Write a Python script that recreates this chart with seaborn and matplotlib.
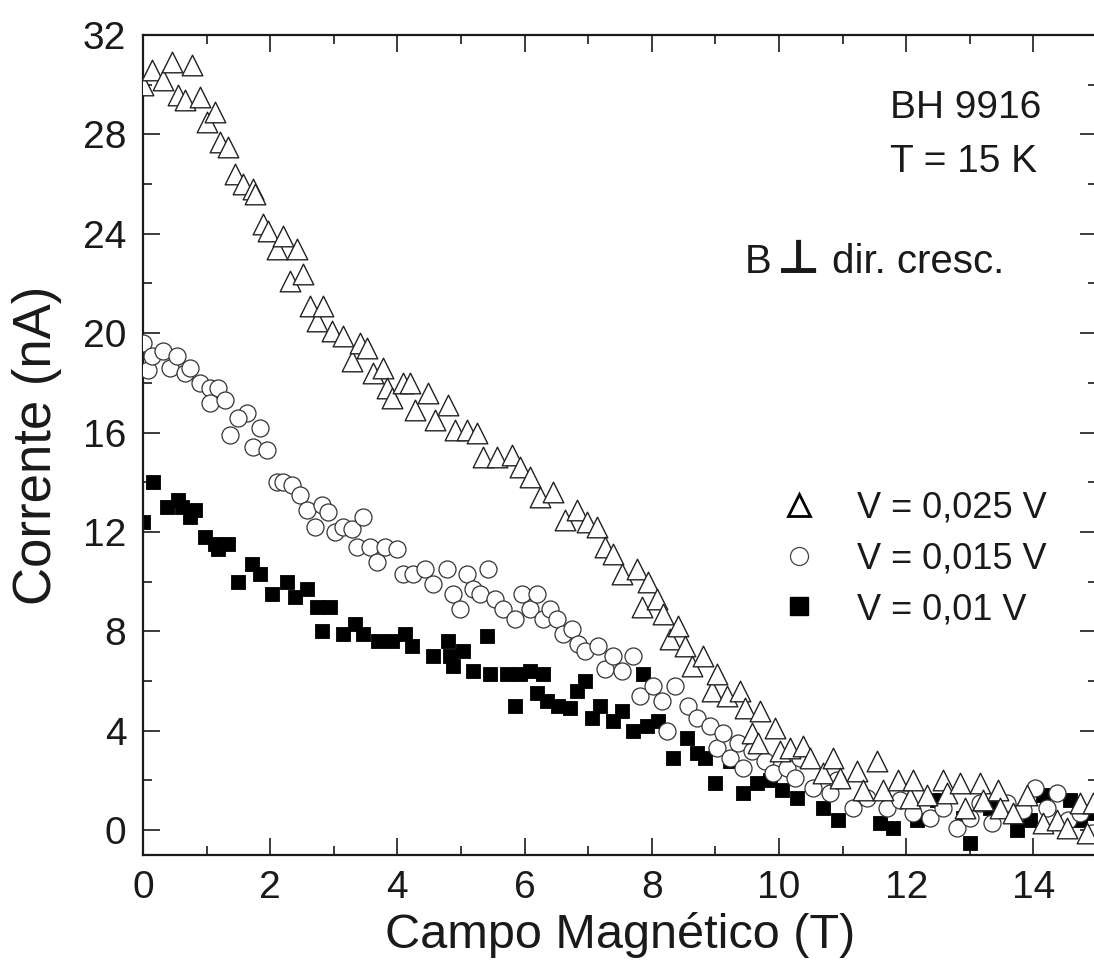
import numpy as np
import pandas as pd
import seaborn as sns
import matplotlib.pyplot as plt
from matplotlib.lines import Line2D
from matplotlib.ticker import MultipleLocator

# --- data ---
# V = 0,025 V (open triangles)
x_025 = [0.00, 0.14, 0.31, 0.46, 0.55, 0.66, 0.77, 0.90, 1.01, 1.13, 1.21, 1.34, 1.45, 1.57,
         1.73, 1.76, 1.89, 1.97, 2.11, 2.20, 2.31, 2.42, 2.52, 2.63, 2.74, 2.83, 2.97, 3.14,
         3.29, 3.41, 3.52, 3.62, 3.77, 3.84, 3.92, 4.09, 4.20, 4.28, 4.48, 4.59, 4.80, 4.91,
         5.09, 5.25, 5.35, 5.57, 5.80, 5.93, 6.08, 6.24, 6.45, 6.64, 6.82, 6.98, 7.14, 7.26,
         7.39, 7.53, 7.77, 7.85, 7.94, 8.08, 8.18, 8.29, 8.41, 8.52, 8.63, 8.81, 8.95, 9.03,
         9.18, 9.39, 9.47, 9.58, 9.67, 9.70, 9.94, 10.02, 10.17, 10.38, 10.49, 10.69, 10.85,
         10.96, 11.23, 11.32, 11.54, 11.64, 11.87, 12.06, 12.10, 12.33, 12.58, 12.64, 12.85,
         12.92, 13.16, 13.21, 13.44, 13.48, 13.68, 13.90, 14.15, 14.37, 14.53, 14.73, 14.84,
         14.94]
y_025 = [30.0, 30.6, 30.2, 30.9, 29.6, 29.4, 30.8, 29.5, 28.5, 28.9, 27.7, 27.5, 26.4, 26.0,
         25.8, 25.6, 24.4, 24.1, 23.4, 23.9, 22.1, 23.4, 22.4, 21.1, 20.5, 21.1, 20.1, 19.9,
         18.9, 19.6, 19.4, 18.4, 18.6, 17.8, 17.4, 18.0, 18.0, 16.9, 17.6, 16.5, 17.1, 16.1,
         16.1, 16.0, 15.0, 15.0, 15.1, 14.6, 14.2, 13.4, 13.6, 12.5, 12.9, 12.4, 12.2, 11.4,
         11.1, 10.3, 10.5, 9.0, 10.0, 9.3, 8.7, 7.7, 8.2, 7.4, 6.6, 7.0, 5.6, 6.3,
         5.4, 5.6, 4.9, 3.9, 3.5, 4.8, 4.1, 3.2, 3.3, 3.4, 2.9, 2.3, 2.9,
         2.1, 2.4, 1.6, 2.8, 1.6, 2.0, 1.3, 2.0, 1.4, 2.0, 1.5, 1.9,
         0.9, 1.9, 1.2, 1.6, 0.9, 0.7, 1.4, 0.3, 0.4, 0.1, 1.1, -0.1,
         1.1]

# V = 0,015 V (open circles)
x_015 = [0.00, 0.08, 0.14, 0.31, 0.42, 0.53, 0.66, 0.74, 0.90, 1.05, 1.18, 1.05, 1.29, 1.64,
         1.49, 1.37, 1.84, 1.73, 1.95, 2.10, 2.20, 2.34, 2.47, 2.58, 2.81, 2.91, 2.70, 3.02,
         3.14, 3.29, 3.46, 3.36, 3.57, 3.68, 3.81, 4.00, 4.09, 4.25, 4.43, 4.56, 4.78, 4.87,
         4.98, 5.09, 5.19, 5.30, 5.42, 5.53, 5.66, 5.85, 5.96, 6.08, 6.19, 6.29, 6.40, 6.51,
         6.60, 6.75, 6.84, 6.95, 7.15, 7.26, 7.39, 7.53, 7.70, 7.81, 8.02, 8.16, 8.24, 8.36,
         8.57, 8.71, 8.92, 9.03, 9.12, 9.23, 9.36, 9.43, 9.58, 9.78, 9.91, 10.13, 10.25,
         10.33, 10.53, 10.80, 10.91, 11.16, 11.38, 11.70, 11.90, 12.10, 12.37, 12.58, 12.80,
         13.00, 13.16, 13.35, 13.58, 13.84, 14.03, 14.21, 14.37, 14.54, 14.73, 14.92]
y_015 = [19.6, 18.5, 19.1, 19.3, 18.6, 19.1, 18.4, 18.6, 18.0, 17.8, 17.8, 17.2, 17.3, 16.8,
         16.6, 15.9, 16.2, 15.4, 15.3, 14.0, 14.0, 13.9, 13.5, 12.9, 13.1, 12.8, 12.2, 12.0,
         12.2, 12.1, 12.6, 11.4, 11.4, 10.8, 11.4, 11.3, 10.3, 10.3, 10.5, 9.9, 10.5, 9.5,
         8.9, 10.3, 9.7, 9.5, 10.5, 9.3, 8.9, 8.5, 9.5, 8.9, 9.5, 8.5, 8.9, 8.5,
         7.9, 8.1, 7.5, 7.2, 7.4, 6.5, 7.0, 6.4, 7.0, 5.4, 5.8, 5.2, 4.0, 5.8,
         5.0, 4.5, 4.2, 3.3, 3.9, 2.9, 3.5, 2.5, 3.2, 2.8, 2.3, 2.5, 2.1,
         2.9, 1.7, 1.5, 2.0, 0.9, 1.3, 0.9, 1.2, 0.7, 0.5, 0.9, 0.1,
         0.5, 1.1, 0.3, 1.1, 0.8, 1.7, 0.9, 1.5, 0.4, 0.7, -0.1]

# V = 0,01 V (filled squares)
x_010 = [0.00, 0.16, 0.38, 0.55, 0.61, 0.74, 0.82, 0.97, 1.13, 1.18, 1.34, 1.49, 1.71, 1.84,
         2.03, 2.26, 2.39, 2.58, 2.74, 2.81, 2.94, 3.14, 3.33, 3.46, 3.69, 3.91, 4.12, 4.23,
         4.56, 4.80, 4.83, 4.87, 5.03, 5.19, 5.41, 5.46, 5.72, 5.85, 5.93, 6.08, 6.19, 6.29,
         6.35, 6.53, 6.71, 6.82, 6.95, 7.06, 7.19, 7.39, 7.53, 7.70, 7.86, 7.92, 8.10, 8.33,
         8.55, 8.71, 8.84, 8.99, 9.23, 9.43, 9.65, 9.86, 10.05, 10.28, 10.69, 10.93, 11.59,
         11.79, 12.17, 12.48, 12.89, 13.00, 13.32, 13.74, 13.95, 14.15, 14.58, 14.73, 14.89]
y_010 = [12.4, 14.0, 13.0, 13.3, 13.0, 12.6, 12.9, 11.8, 11.5, 11.3, 11.5, 10.0, 10.7, 10.3,
         9.5, 10.0, 9.4, 9.7, 9.0, 8.0, 9.0, 7.9, 8.3, 7.9, 7.6, 7.6, 7.9, 7.4,
         7.0, 7.6, 7.0, 6.6, 7.2, 6.4, 7.8, 6.3, 6.3, 5.0, 6.3, 6.4, 5.5, 6.3,
         5.2, 5.0, 4.9, 5.6, 6.0, 4.5, 5.0, 4.4, 4.8, 4.0, 6.3, 4.2, 4.4, 2.9,
         3.7, 3.1, 2.9, 1.9, 2.8, 1.5, 1.9, 2.0, 1.6, 1.3, 0.9, 0.4, 0.3,
         0.1, 0.4, 1.2, 0.5, -0.5, 0.9, 0.0, 0.4, 1.4, 1.2, 0.4, 0.7]

labels = ["V = 0,025 V", "V = 0,015 V", "V = 0,01 V"]

df_025 = pd.DataFrame({"campo": x_025, "corrente": y_025})
df_015 = pd.DataFrame({"campo": x_015, "corrente": y_015})
df_010 = pd.DataFrame({"campo": x_010, "corrente": y_010})

# --- style ---
sns.set_theme(style="ticks")
plt.rcParams["font.family"] = ["Liberation Sans", "DejaVu Sans"]
plt.rcParams["text.color"] = "#1a1a1a"
plt.rcParams["axes.labelcolor"] = "#1a1a1a"

fig = plt.figure(figsize=(10.94, 9.6), dpi=100)
ax = fig.add_axes([143 / 1094, 105 / 960, 954 / 1094, 820 / 960])

# squares under circles under triangles
sns.scatterplot(data=df_010, x="campo", y="corrente", marker="s", s=105,
                color="black", edgecolor="black", linewidth=0.6, ax=ax, zorder=2)
sns.scatterplot(data=df_015, x="campo", y="corrente", marker="o", s=150,
                facecolor="white", edgecolor="#333333", linewidth=0.9, ax=ax, zorder=3)
sns.scatterplot(data=df_025, x="campo", y="corrente", marker="^", s=220,
                facecolor="white", edgecolor="#222222", linewidth=1.0, ax=ax, zorder=4)

ax.set_xlim(0, 15)
ax.set_ylim(-1, 32)
ax.xaxis.set_major_locator(MultipleLocator(2))
ax.xaxis.set_minor_locator(MultipleLocator(1))
ax.yaxis.set_major_locator(MultipleLocator(4))
ax.yaxis.set_minor_locator(MultipleLocator(2))
ax.tick_params(which="both", direction="in", top=True, right=True, width=1.2,
               labelsize=28, colors="#1a1a1a")
ax.tick_params(which="major", length=12)
ax.tick_params(which="minor", length=6.5)
ax.tick_params(axis="x", pad=11)
ax.tick_params(axis="y", pad=12)
for sp in ax.spines.values():
    sp.set_linewidth(1.6)
    sp.set_color("#1a1a1a")
ax.spines["right"].set_visible(False)

ax.set_xlabel("Campo Magnético (T)", fontsize=35, labelpad=4)
ax.set_ylabel("Corrente (nA)", fontsize=38, labelpad=15)

# annotations
fig.text(890 / 1094, 1 - 118 / 960, "BH 9916", fontsize=28, va="baseline", ha="left")
fig.text(890 / 1094, 1 - 172 / 960, "T = 15 K", fontsize=28, va="baseline", ha="left")
fig.text(745 / 1094, 1 - 273 / 960, "B", fontsize=29, va="baseline", ha="left")
fig.text(799 / 1094, 1 - 273 / 960, "⊥", fontsize=34, fontweight="bold",
         va="baseline", ha="center", family=["DejaVu Sans"])
fig.text(832 / 1094, 1 - 273 / 960, "dir. cresc.", fontsize=29, va="baseline", ha="left")

# legend
handles = [
    Line2D([], [], marker="^", ls="none", markersize=16, markerfacecolor="white",
           markeredgecolor="black", markeredgewidth=2.0),
    Line2D([], [], marker="o", ls="none", markersize=13, markerfacecolor="white",
           markeredgecolor="#444444", markeredgewidth=0.9),
    Line2D([], [], marker="s", ls="none", markersize=13, markerfacecolor="black",
           markeredgecolor="black"),
]
ax.legend(handles, labels, loc="upper left", bbox_to_anchor=(781 / 1094, 1 - 491 / 960),
          bbox_transform=fig.transFigure, frameon=False, fontsize=26,
          handlelength=1.0, handletextpad=1.1, labelspacing=0.43,
          borderpad=0, borderaxespad=0)

fig.savefig("out.png", dpi=100)
